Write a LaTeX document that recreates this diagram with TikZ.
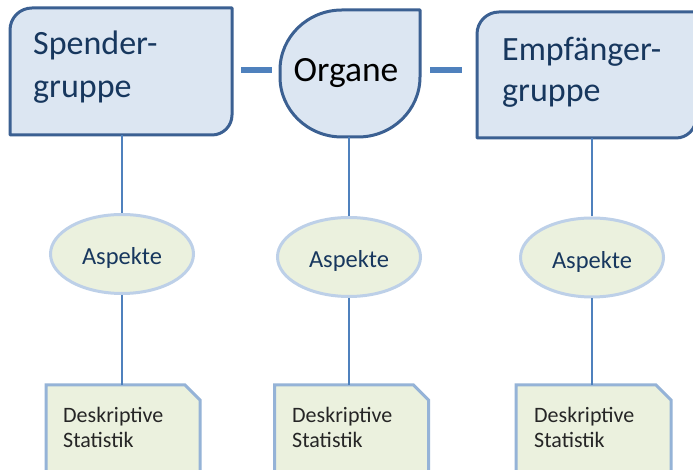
\documentclass[tikz,border=0pt]{standalone}
\usepackage{fontspec}
\setmainfont{Carlito}
\usetikzlibrary{shapes.geometric,calc}
\definecolor{grpfill}{HTML}{DCE6F2}
\definecolor{grpline}{HTML}{3B6092}
\definecolor{grptext}{HTML}{17375E}
\definecolor{conn}{HTML}{4F81BD}
\definecolor{greenfill}{HTML}{EBF1DE}
\definecolor{aspline}{HTML}{BDD0E8}
\definecolor{docline}{HTML}{95B3D7}
\definecolor{doctext}{HTML}{262626}
\tikzset{
  anchorbox/.style={inner sep=0pt, outer sep=0pt, draw=none, minimum width=#1},
  grpshape/.style={draw=grpline, fill=grpfill, line width=3pt, line join=round},
  grplabel/.style={inner sep=0pt, anchor=base west, text=grptext, font=\fontsize{34}{40}\selectfont},
  hconn/.style={draw=conn, line width=6pt},
  vconn/.style={draw=conn, line width=1.4pt},
  aspect/.style={ellipse, draw=aspline, fill=greenfill, line width=3pt, minimum width=143pt, minimum height=79pt, inner sep=0pt, text height=22pt, text depth=0pt, text=grptext, font=\fontsize{24.5}{28}\selectfont},
  docshape/.style={draw=docline, fill=greenfill, line width=3pt, line join=miter},
  doclabel/.style={inner sep=0pt, anchor=base west, text=doctext, font=\fontsize{22}{25}\selectfont}
}
\begin{document}
\begin{tikzpicture}[x=1pt,y=1pt]
\useasboundingbox[fill=white] (0,0) rectangle (693,470);

% group boxes (frames as named nodes)
\node[anchorbox=222pt, minimum height=127pt] (sp) at (121,398.5) {};
\node[anchorbox=140pt, minimum height=127pt] (org) at (350,396.5) {};
\node[anchorbox=219pt, minimum height=126pt] (emp) at (586.5,395) {};

\draw[grpshape] (sp.south west) -- ([yshift=-22pt]sp.north west)
  arc[start angle=180,end angle=90,radius=22pt] -- (sp.north east)
  -- ([yshift=20pt]sp.south east) arc[start angle=0,end angle=-90,radius=20pt] -- cycle;

\draw[grpshape] (org.north east) -- ([yshift=60pt]org.south east)
  arc[start angle=0,end angle=-90,x radius=62pt,y radius=60pt]
  -- ([xshift=62pt]org.south west)
  arc[start angle=-90,end angle=-180,x radius=62pt,y radius=60pt]
  -- ([yshift=-60pt]org.north west)
  arc[start angle=180,end angle=90,x radius=62pt,y radius=60pt] -- cycle;

\draw[grpshape] (emp.south west) -- ([yshift=-22pt]emp.north west)
  arc[start angle=180,end angle=90,radius=22pt] -- (emp.north east)
  -- ([yshift=20pt]emp.south east) arc[start angle=0,end angle=-90,radius=20pt] -- cycle;

\node[grplabel] (spt1) at (33,415) {Spender-};
\node[grplabel] (spt2) at (33,372) {gruppe};
\node[grplabel, anchor=base, text=black, font=\fontsize{35.5}{40}\selectfont] (orgt) at (346,388) {Organe};
\node[grplabel] (empt1) at (502,409) {Empfänger-};
\node[grplabel] (empt2) at (502,368) {gruppe};

% horizontal connectors
\coordinate (cy) at (0,400);
\draw[hconn, shorten <=9pt, shorten >=8pt] (sp.east |- cy) -- (org.west |- cy);
\draw[hconn, shorten <=10pt, shorten >=15pt] (org.east |- cy) -- (emp.west |- cy);

% aspect ellipses
\node[aspect] (a1) at (122,216) {Aspekte};
\node[aspect] (a2) at (349,213) {Aspekte};
\node[aspect] (a3) at (592,212.5) {Aspekte};

% document boxes
\node[anchorbox=154pt, minimum height=95pt] (d1) at (123,37.5) {};
\node[anchorbox=154pt, minimum height=95pt] (d2) at (351.5,37.5) {};
\node[anchorbox=155pt, minimum height=95pt] (d3) at (593.5,37.5) {};
\foreach \d in {d1,d2,d3}{
  \draw[docshape] (\d.south west) -- (\d.north west) -- ([xshift=-15pt]\d.north east)
    -- ([yshift=-15pt]\d.north east) -- (\d.south east) -- cycle;
}
\node[doclabel] (d1t1) at (63,47) {Deskriptive};
\node[doclabel] (d1t2) at (63,22) {Statistik};
\node[doclabel] (d2t1) at (292,47) {Deskriptive};
\node[doclabel] (d2t2) at (292,22) {Statistik};
\node[doclabel] (d3t1) at (534,47) {Deskriptive};
\node[doclabel] (d3t2) at (534,22) {Statistik};

% vertical connectors
\draw[vconn] (a1.north |- sp.south) -- (a1.north);
\draw[vconn] (a1.south) -- (a1.south |- d1.north);
\draw[vconn] (a2.north |- org.south) -- (a2.north);
\draw[vconn] (a2.south) -- (a2.south |- d2.north);
\draw[vconn] (a3.north |- emp.south) -- (a3.north);
\draw[vconn] (a3.south) -- (a3.south |- d3.north);
\end{tikzpicture}
\end{document}
